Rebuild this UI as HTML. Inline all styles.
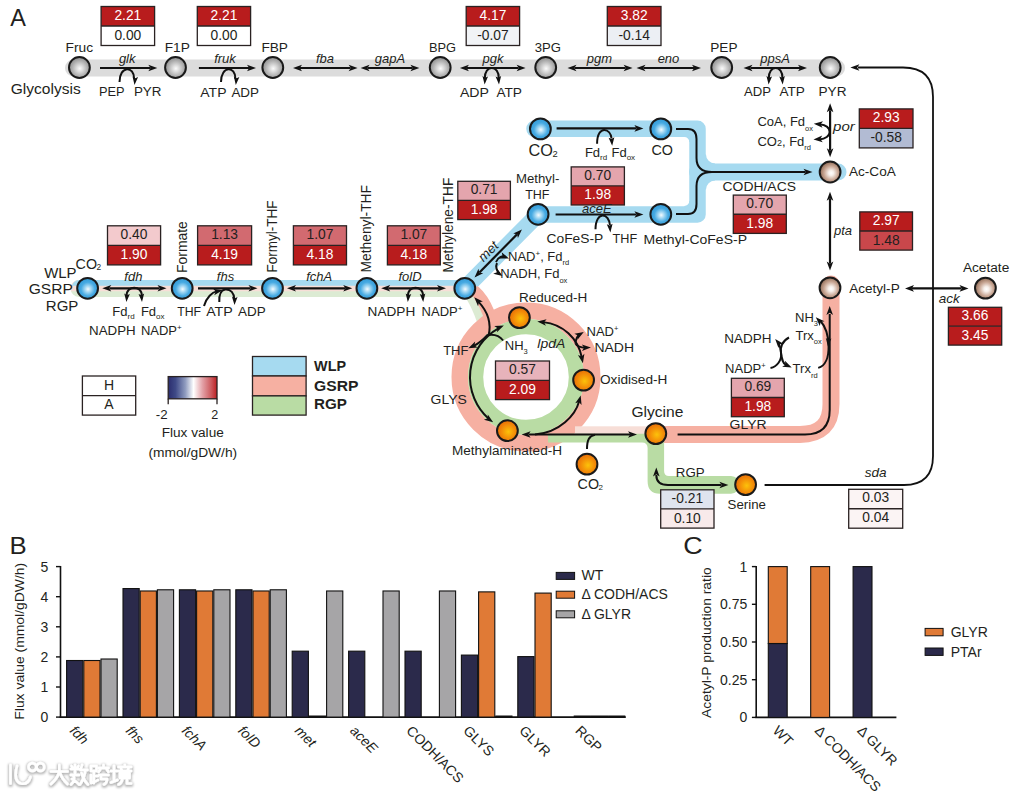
<!DOCTYPE html>
<html><head><meta charset="utf-8"><style>
html,body{margin:0;padding:0;background:#fff;}
svg{display:block;font-family:"Liberation Sans",sans-serif;}
</style></head><body>
<svg width="1014" height="793" viewBox="0 0 1014 793">
<rect width="1014" height="793" fill="#fff"/>
<defs>
<radialGradient id="g_gray" cx="0.52" cy="0.55" r="0.55">
 <stop offset="0" stop-color="#fbfbfb"/><stop offset="0.3" stop-color="#dadada"/><stop offset="0.7" stop-color="#acacac"/><stop offset="1" stop-color="#8c8c8c"/></radialGradient>
<radialGradient id="g_blue" cx="0.52" cy="0.54" r="0.55">
 <stop offset="0" stop-color="#f4fbff"/><stop offset="0.25" stop-color="#a8daf4"/><stop offset="0.6" stop-color="#47aae2"/><stop offset="1" stop-color="#2f98d6"/></radialGradient>
<radialGradient id="g_orange" cx="0.55" cy="0.55" r="0.6">
 <stop offset="0" stop-color="#fcc20a"/><stop offset="0.5" stop-color="#f49108"/><stop offset="1" stop-color="#e66506"/></radialGradient>
<radialGradient id="g_brown" cx="0.55" cy="0.55" r="0.6">
 <stop offset="0" stop-color="#ffffff"/><stop offset="0.2" stop-color="#f6efea"/><stop offset="0.55" stop-color="#caa997"/><stop offset="0.85" stop-color="#9b7762"/><stop offset="1" stop-color="#7a5743"/></radialGradient>
<linearGradient id="g_bar" x1="0" x2="1" y1="0" y2="0">
 <stop offset="0" stop-color="#2b2d6e"/><stop offset="0.15" stop-color="#3f4a87"/><stop offset="0.35" stop-color="#8f9bbf"/><stop offset="0.52" stop-color="#ffffff"/><stop offset="0.7" stop-color="#e3a2a8"/><stop offset="0.88" stop-color="#cc5a5e"/><stop offset="1" stop-color="#bd1e22"/></linearGradient>
</defs>
<rect x="65" y="59.4" width="780" height="17" rx="8.5" fill="#dcdcdc"/>
<path d="M79,280.1 H466 V296.9 H79 A8.4,8.4 0 0 1 79,280.1 Z" fill="#dcebd3"/>
<path d="M79,280.1 H466 V291.3 H71 A8.4,8.4 0 0 1 79,280.1 Z" fill="#f7ded7"/>
<path d="M79,280.1 H466 V285.7 H72 A8.4,8.4 0 0 1 79,280.1 Z" fill="#a6daf0"/>
<path d="M534.5,128.8 H697.5 V214.5 H538 L464.8,288.2" fill="none" stroke="#a6daf0" stroke-width="16.5" stroke-linejoin="round" stroke-linecap="round"/>
<path d="M697.5,172 H838" fill="none" stroke="#a6daf0" stroke-width="17" stroke-linecap="round"/>
<path d="M705,154.5 L706,154.5 A9,9 0 0 0 715,163.5 L715,164.5 L705,164.5 Z" fill="#a6daf0"/>
<path d="M705,189.5 L706,189.5 A9,9 0 0 1 715,180.5 L715,179.5 L705,179.5 Z" fill="#a6daf0"/>
<path d="M690.3,142 L689.3,142 A5,5 0 0 0 684.3,137 L684.3,136 L690.3,136 Z" fill="#a6daf0"/>
<path d="M690.3,201 L689.3,201 A5,5 0 0 1 684.3,206 L684.3,207 L690.3,207 Z" fill="#a6daf0"/>
<path d="M452,291.3 L468,291.5 Q472,293 473.7,296.6 Q480,306 484.4,317 L477,322 Q472,308 466.6,299.3 Q461,296.9 452,296.9 Z" fill="#dcebd3"/>
<path d="M460,284 L478.2,286.4 Q488,295 494,310 L484,318 Q479.5,306 473.2,296.8 L460,293 Z" fill="#f6b0a2"/>
<circle cx="526" cy="377" r="66.2" fill="none" stroke="#f6b0a2" stroke-width="16.6"/>
<path d="M656,434.4 H800 Q831,434.4 831,404 V284" fill="none" stroke="#f6b0a2" stroke-width="17" stroke-linejoin="round" stroke-linecap="round"/>
<rect x="575" y="426.3" width="81" height="8" fill="#f7ded7"/>
<circle cx="526" cy="377" r="50.4" fill="none" stroke="#b9dca4" stroke-width="15.2"/>
<path d="M548,433.7 L664.1,433.7 L664.1,471 Q664.1,476 669,476 L731,476 A8.85,8.85 0 0 1 731,493.7 L660,493.7 Q647.6,493.7 647.6,481 L647.6,448 Q647.6,442.4 642,442.4 L548,442.4 Z" fill="#b9dca4"/>
<circle cx="79.40" cy="67.50" r="10.4" fill="url(#g_gray)" stroke="#1a1a1a" stroke-width="2.0"/>
<circle cx="175.50" cy="67.50" r="10.4" fill="url(#g_gray)" stroke="#1a1a1a" stroke-width="2.0"/>
<circle cx="272.80" cy="67.50" r="10.4" fill="url(#g_gray)" stroke="#1a1a1a" stroke-width="2.0"/>
<circle cx="440.20" cy="67.50" r="10.4" fill="url(#g_gray)" stroke="#1a1a1a" stroke-width="2.0"/>
<circle cx="545.70" cy="67.50" r="10.4" fill="url(#g_gray)" stroke="#1a1a1a" stroke-width="2.0"/>
<circle cx="721.70" cy="67.50" r="10.4" fill="url(#g_gray)" stroke="#1a1a1a" stroke-width="2.0"/>
<circle cx="830.20" cy="67.50" r="10.4" fill="url(#g_gray)" stroke="#1a1a1a" stroke-width="2.0"/>
<text x="65.60" y="51.70" font-size="13.7" fill="#231f20" textLength="27.50" lengthAdjust="spacingAndGlyphs">Fruc</text>
<text x="164.70" y="51.70" font-size="13.7" fill="#231f20" textLength="25.10" lengthAdjust="spacingAndGlyphs">F1P</text>
<text x="261.40" y="51.70" font-size="13.7" fill="#231f20" textLength="26.60" lengthAdjust="spacingAndGlyphs">FBP</text>
<text x="428.90" y="51.70" font-size="13.7" fill="#231f20" textLength="27.10" lengthAdjust="spacingAndGlyphs">BPG</text>
<text x="534.80" y="51.70" font-size="13.7" fill="#231f20" textLength="26.20" lengthAdjust="spacingAndGlyphs">3PG</text>
<text x="710.30" y="51.70" font-size="13.7" fill="#231f20" textLength="27.20" lengthAdjust="spacingAndGlyphs">PEP</text>
<text x="818.50" y="96.20" font-size="13.7" fill="#231f20" textLength="28.00" lengthAdjust="spacingAndGlyphs">PYR</text>
<path d="M157.30,68.00 L148.30,64.70 L150.50,68.00 L148.30,71.30 Z" fill="#111111"/>
<line x1="100.00" y1="68.00" x2="150.30" y2="68.00" stroke="#111111" stroke-width="2.2"/>
<path d="M256.00,68.00 L247.00,64.70 L249.20,68.00 L247.00,71.30 Z" fill="#111111"/>
<line x1="198.90" y1="68.00" x2="249.00" y2="68.00" stroke="#111111" stroke-width="2.2"/>
<path d="M293.00,68.00 L302.00,71.30 L299.80,68.00 L302.00,64.70 Z" fill="#111111"/>
<path d="M357.60,68.00 L348.60,64.70 L350.80,68.00 L348.60,71.30 Z" fill="#111111"/>
<line x1="300.00" y1="68.00" x2="350.60" y2="68.00" stroke="#111111" stroke-width="2.2"/>
<path d="M360.60,68.00 L369.60,71.30 L367.40,68.00 L369.60,64.70 Z" fill="#111111"/>
<path d="M419.40,68.00 L410.40,64.70 L412.60,68.00 L410.40,71.30 Z" fill="#111111"/>
<line x1="367.60" y1="68.00" x2="412.40" y2="68.00" stroke="#111111" stroke-width="2.2"/>
<path d="M459.90,68.00 L468.90,71.30 L466.70,68.00 L468.90,64.70 Z" fill="#111111"/>
<path d="M525.60,68.00 L516.60,64.70 L518.80,68.00 L516.60,71.30 Z" fill="#111111"/>
<line x1="466.90" y1="68.00" x2="518.60" y2="68.00" stroke="#111111" stroke-width="2.2"/>
<path d="M567.50,68.00 L576.50,71.30 L574.30,68.00 L576.50,64.70 Z" fill="#111111"/>
<path d="M632.60,68.00 L623.60,64.70 L625.80,68.00 L623.60,71.30 Z" fill="#111111"/>
<line x1="574.50" y1="68.00" x2="625.60" y2="68.00" stroke="#111111" stroke-width="2.2"/>
<path d="M636.50,68.00 L645.50,71.30 L643.30,68.00 L645.50,64.70 Z" fill="#111111"/>
<path d="M701.00,68.00 L692.00,64.70 L694.20,68.00 L692.00,71.30 Z" fill="#111111"/>
<line x1="643.50" y1="68.00" x2="694.00" y2="68.00" stroke="#111111" stroke-width="2.2"/>
<path d="M743.50,68.00 L752.50,71.30 L750.30,68.00 L752.50,64.70 Z" fill="#111111"/>
<path d="M807.00,68.00 L798.00,64.70 L800.20,68.00 L798.00,71.30 Z" fill="#111111"/>
<line x1="750.50" y1="68.00" x2="800.00" y2="68.00" stroke="#111111" stroke-width="2.2"/>
<text x="127.20" y="63.30" font-size="13" text-anchor="middle" font-style="italic" fill="#231f20">glk</text>
<text x="225.00" y="63.30" font-size="13" text-anchor="middle" font-style="italic" fill="#231f20">fruk</text>
<text x="325.00" y="63.30" font-size="13" text-anchor="middle" font-style="italic" fill="#231f20">fba</text>
<text x="390.00" y="63.30" font-size="13" text-anchor="middle" font-style="italic" fill="#231f20">gapA</text>
<text x="493.00" y="63.30" font-size="13" text-anchor="middle" font-style="italic" fill="#231f20">pgk</text>
<text x="599.40" y="63.30" font-size="13" text-anchor="middle" font-style="italic" fill="#231f20">pgm</text>
<text x="668.50" y="63.30" font-size="13" text-anchor="middle" font-style="italic" fill="#231f20">eno</text>
<text x="775.00" y="63.30" font-size="13" text-anchor="middle" font-style="italic" fill="#231f20">ppsA</text>
<path d="M119.5,82 C119.5,65.5 134.2,65.5 134.2,79" stroke="#111111" stroke-width="2.0" fill="none"/>
<path d="M134.50,85.00 L138.10,77.12 L135.17,78.33 L132.53,76.56 Z" fill="#111111"/>
<path d="M221,82 C221,65.5 235.5,65.5 235.5,79" stroke="#111111" stroke-width="2.0" fill="none"/>
<path d="M235.80,85.00 L239.40,77.12 L236.47,78.33 L233.83,76.56 Z" fill="#111111"/>
<path d="M484.8,78.5 C484.3,64.5 499.3,64.5 498.8,78.5" stroke="#111111" stroke-width="2.0" fill="none"/>
<path d="M484.60,84.50 L488.05,76.55 L485.14,77.82 L482.46,76.10 Z" fill="#111111"/>
<path d="M499.00,84.50 L501.14,76.10 L498.46,77.82 L495.55,76.55 Z" fill="#111111"/>
<path d="M768.8,78.5 C768.3,64.5 783.0,64.5 782.5,78.5" stroke="#111111" stroke-width="2.0" fill="none"/>
<path d="M768.60,84.50 L772.05,76.55 L769.14,77.82 L766.46,76.10 Z" fill="#111111"/>
<path d="M782.70,84.50 L784.84,76.10 L782.16,77.82 L779.25,76.55 Z" fill="#111111"/>
<text x="99.00" y="96.20" font-size="13.7" fill="#231f20" textLength="25.60" lengthAdjust="spacingAndGlyphs">PEP</text>
<text x="133.90" y="96.20" font-size="13.7" fill="#231f20" textLength="27.60" lengthAdjust="spacingAndGlyphs">PYR</text>
<text x="200.30" y="96.60" font-size="13.7" fill="#231f20" textLength="26.20" lengthAdjust="spacingAndGlyphs">ATP</text>
<text x="231.40" y="96.60" font-size="13.7" fill="#231f20" textLength="27.60" lengthAdjust="spacingAndGlyphs">ADP</text>
<text x="459.90" y="96.60" font-size="13.7" fill="#231f20" textLength="29.00" lengthAdjust="spacingAndGlyphs">ADP</text>
<text x="496.40" y="96.60" font-size="13.7" fill="#231f20" textLength="25.60" lengthAdjust="spacingAndGlyphs">ATP</text>
<text x="744.00" y="96.20" font-size="13.7" fill="#231f20" textLength="27.00" lengthAdjust="spacingAndGlyphs">ADP</text>
<text x="779.50" y="96.20" font-size="13.7" fill="#231f20" textLength="25.40" lengthAdjust="spacingAndGlyphs">ATP</text>
<rect x="101.10" y="6.50" width="53.50" height="19.50" fill="#b81c1d"/>
<rect x="101.10" y="26.00" width="53.50" height="19.50" fill="#ffffff"/>
<rect x="101.10" y="6.50" width="53.50" height="39.00" fill="none" stroke="#2a2222" stroke-width="1.3"/>
<line x1="101.10" y1="26.00" x2="154.60" y2="26.00" stroke="#2a2222" stroke-width="1.3"/>
<text x="127.85" y="19.65" font-size="13.8" text-anchor="middle" fill="#ffffff">2.21</text>
<text x="127.85" y="39.75" font-size="13.8" text-anchor="middle" fill="#231f20">0.00</text>
<rect x="197.30" y="6.50" width="53.30" height="19.50" fill="#b81c1d"/>
<rect x="197.30" y="26.00" width="53.30" height="19.50" fill="#ffffff"/>
<rect x="197.30" y="6.50" width="53.30" height="39.00" fill="none" stroke="#2a2222" stroke-width="1.3"/>
<line x1="197.30" y1="26.00" x2="250.60" y2="26.00" stroke="#2a2222" stroke-width="1.3"/>
<text x="223.95" y="19.65" font-size="13.8" text-anchor="middle" fill="#ffffff">2.21</text>
<text x="223.95" y="39.75" font-size="13.8" text-anchor="middle" fill="#231f20">0.00</text>
<rect x="466.20" y="6.50" width="53.40" height="19.50" fill="#b81c1d"/>
<rect x="466.20" y="26.00" width="53.40" height="19.50" fill="#f1f3f6"/>
<rect x="466.20" y="6.50" width="53.40" height="39.00" fill="none" stroke="#2a2222" stroke-width="1.3"/>
<line x1="466.20" y1="26.00" x2="519.60" y2="26.00" stroke="#2a2222" stroke-width="1.3"/>
<text x="492.90" y="19.65" font-size="13.8" text-anchor="middle" fill="#ffffff">4.17</text>
<text x="492.90" y="39.75" font-size="13.8" text-anchor="middle" fill="#231f20">-0.07</text>
<rect x="607.30" y="6.50" width="53.70" height="19.50" fill="#b81c1d"/>
<rect x="607.30" y="26.00" width="53.70" height="19.50" fill="#eceff4"/>
<rect x="607.30" y="6.50" width="53.70" height="39.00" fill="none" stroke="#2a2222" stroke-width="1.3"/>
<line x1="607.30" y1="26.00" x2="661.00" y2="26.00" stroke="#2a2222" stroke-width="1.3"/>
<text x="634.15" y="19.65" font-size="13.8" text-anchor="middle" fill="#ffffff">3.82</text>
<text x="634.15" y="39.75" font-size="13.8" text-anchor="middle" fill="#231f20">-0.14</text>
<text x="10.30" y="25.90" font-size="23.5" fill="#231f20">A</text>
<text x="10.70" y="93.90" font-size="14.5" fill="#231f20" textLength="70.00" lengthAdjust="spacingAndGlyphs">Glycolysis</text>
<circle cx="87.60" cy="288.30" r="10.4" fill="url(#g_blue)" stroke="#1a1a1a" stroke-width="2.0"/>
<circle cx="182.20" cy="288.30" r="10.4" fill="url(#g_blue)" stroke="#1a1a1a" stroke-width="2.0"/>
<circle cx="272.50" cy="288.30" r="10.4" fill="url(#g_blue)" stroke="#1a1a1a" stroke-width="2.0"/>
<circle cx="366.90" cy="288.30" r="10.4" fill="url(#g_blue)" stroke="#1a1a1a" stroke-width="2.0"/>
<circle cx="464.80" cy="288.30" r="10.4" fill="url(#g_blue)" stroke="#1a1a1a" stroke-width="2.0"/>
<path d="M102.30,288.30 L111.30,291.60 L109.10,288.30 L111.30,285.00 Z" fill="#111111"/>
<path d="M166.50,288.30 L157.50,285.00 L159.70,288.30 L157.50,291.60 Z" fill="#111111"/>
<line x1="109.30" y1="288.30" x2="159.50" y2="288.30" stroke="#111111" stroke-width="2.2"/>
<path d="M257.50,288.30 L248.50,285.00 L250.70,288.30 L248.50,291.60 Z" fill="#111111"/>
<line x1="198.00" y1="288.30" x2="250.50" y2="288.30" stroke="#111111" stroke-width="2.2"/>
<path d="M287.00,288.30 L296.00,291.60 L293.80,288.30 L296.00,285.00 Z" fill="#111111"/>
<path d="M352.20,288.30 L343.20,285.00 L345.40,288.30 L343.20,291.60 Z" fill="#111111"/>
<line x1="294.00" y1="288.30" x2="345.20" y2="288.30" stroke="#111111" stroke-width="2.2"/>
<path d="M381.20,288.30 L390.20,291.60 L388.00,288.30 L390.20,285.00 Z" fill="#111111"/>
<path d="M446.00,288.30 L437.00,285.00 L439.20,288.30 L437.00,291.60 Z" fill="#111111"/>
<line x1="388.20" y1="288.30" x2="439.00" y2="288.30" stroke="#111111" stroke-width="2.2"/>
<text x="133.40" y="281.40" font-size="13" text-anchor="middle" font-style="italic" fill="#231f20">fdh</text>
<text x="225.50" y="281.40" font-size="13" text-anchor="middle" font-style="italic" fill="#231f20">fhs</text>
<text x="319.20" y="281.40" font-size="13" text-anchor="middle" font-style="italic" fill="#231f20">fchA</text>
<text x="410.00" y="281.40" font-size="13" text-anchor="middle" font-style="italic" fill="#231f20">folD</text>
<rect x="107.50" y="225.80" width="53.10" height="19.55" fill="#f3cacd"/>
<rect x="107.50" y="245.35" width="53.10" height="19.55" fill="#b81c1d"/>
<rect x="107.50" y="225.80" width="53.10" height="39.10" fill="none" stroke="#2a2222" stroke-width="1.3"/>
<line x1="107.50" y1="245.35" x2="160.60" y2="245.35" stroke="#2a2222" stroke-width="1.3"/>
<text x="134.05" y="238.98" font-size="13.8" text-anchor="middle" fill="#231f20">0.40</text>
<text x="134.05" y="259.12" font-size="13.8" text-anchor="middle" fill="#ffffff">1.90</text>
<rect x="197.60" y="225.80" width="54.00" height="19.55" fill="#d26a70"/>
<rect x="197.60" y="245.35" width="54.00" height="19.55" fill="#b81c1d"/>
<rect x="197.60" y="225.80" width="54.00" height="39.10" fill="none" stroke="#2a2222" stroke-width="1.3"/>
<line x1="197.60" y1="245.35" x2="251.60" y2="245.35" stroke="#2a2222" stroke-width="1.3"/>
<text x="224.60" y="238.98" font-size="13.8" text-anchor="middle" fill="#231f20">1.13</text>
<text x="224.60" y="259.12" font-size="13.8" text-anchor="middle" fill="#ffffff">4.19</text>
<rect x="293.40" y="225.80" width="53.10" height="19.55" fill="#d26a70"/>
<rect x="293.40" y="245.35" width="53.10" height="19.55" fill="#b81c1d"/>
<rect x="293.40" y="225.80" width="53.10" height="39.10" fill="none" stroke="#2a2222" stroke-width="1.3"/>
<line x1="293.40" y1="245.35" x2="346.50" y2="245.35" stroke="#2a2222" stroke-width="1.3"/>
<text x="319.95" y="238.98" font-size="13.8" text-anchor="middle" fill="#231f20">1.07</text>
<text x="319.95" y="259.12" font-size="13.8" text-anchor="middle" fill="#ffffff">4.18</text>
<rect x="387.40" y="225.80" width="52.90" height="19.55" fill="#d26a70"/>
<rect x="387.40" y="245.35" width="52.90" height="19.55" fill="#b81c1d"/>
<rect x="387.40" y="225.80" width="52.90" height="39.10" fill="none" stroke="#2a2222" stroke-width="1.3"/>
<line x1="387.40" y1="245.35" x2="440.30" y2="245.35" stroke="#2a2222" stroke-width="1.3"/>
<text x="413.85" y="238.98" font-size="13.8" text-anchor="middle" fill="#231f20">1.07</text>
<text x="413.85" y="259.12" font-size="13.8" text-anchor="middle" fill="#ffffff">4.18</text>
<text x="187.00" y="272.90" font-size="13.8" fill="#231f20" textLength="51.70" lengthAdjust="spacingAndGlyphs" transform="rotate(-90 187.00 272.90)">Formate</text>
<text x="276.60" y="272.50" font-size="13.8" fill="#231f20" textLength="71.90" lengthAdjust="spacingAndGlyphs" transform="rotate(-90 276.60 272.50)">Formyl-THF</text>
<text x="371.40" y="272.50" font-size="13.8" fill="#231f20" textLength="87.50" lengthAdjust="spacingAndGlyphs" transform="rotate(-90 371.40 272.50)">Methenyl-THF</text>
<text x="453.40" y="272.50" font-size="13.8" fill="#231f20" textLength="94.90" lengthAdjust="spacingAndGlyphs" transform="rotate(-90 453.40 272.50)">Methylene-THF</text>
<text x="44.20" y="278.40" font-size="14.5" fill="#231f20" textLength="32.30" lengthAdjust="spacingAndGlyphs">WLP</text>
<text x="28.70" y="294.20" font-size="14.5" fill="#231f20" textLength="44.20" lengthAdjust="spacingAndGlyphs">GSRP</text>
<text x="45.80" y="310.70" font-size="14.5" fill="#231f20" textLength="32.60" lengthAdjust="spacingAndGlyphs">RGP</text>
<text x="75.60" y="269.00" font-size="14" fill="#231f20" textLength="21.40" lengthAdjust="spacingAndGlyphs">CO</text>
<text x="96.60" y="269.80" font-size="8.3" fill="#231f20">2</text>
<path d="M126.6,296 C126.1,285 142.3,285 141.8,296" stroke="#111111" stroke-width="2.0" fill="none"/>
<path d="M126.40,302.00 L129.85,294.05 L126.94,295.32 L124.26,293.60 Z" fill="#111111"/>
<path d="M142.00,302.00 L144.14,293.60 L141.46,295.32 L138.55,294.05 Z" fill="#111111"/>
<text x="112.30" y="315.50" font-size="13" fill="#231f20">Fd<tspan font-size="8" dy="3">rd</tspan></text>
<text x="140.90" y="315.50" font-size="13" fill="#231f20">Fd<tspan font-size="8" dy="3">ox</tspan></text>
<text x="89.10" y="334.90" font-size="13.7" fill="#231f20" textLength="46.60" lengthAdjust="spacingAndGlyphs">NADPH</text>
<text x="140.9" y="334.9" font-size="13" fill="#231f20">NADP<tspan font-size="8" dy="-5">+</tspan></text>
<path d="M222.50,290.30 L213.06,288.65 L215.81,291.50 L214.23,295.14 Z" fill="#111111"/>
<path d="M204.00,306.00 C206.33,297.33 212.50,292.10 216.59,291.36" stroke="#111111" stroke-width="2.0" fill="none"/>
<path d="M219.3,302 C219,295 220,290.5 225,289.6 C231,289 234,293 234.3,299" stroke="#111111" stroke-width="2.0" fill="none"/>
<path d="M234.50,305.00 L237.54,296.89 L234.70,298.30 L231.95,296.72 Z" fill="#111111"/>
<text x="177.20" y="315.50" font-size="13.7" fill="#231f20" textLength="23.80" lengthAdjust="spacingAndGlyphs">THF</text>
<text x="206.20" y="315.50" font-size="13.7" fill="#231f20" textLength="26.60" lengthAdjust="spacingAndGlyphs">ATP</text>
<text x="238.00" y="315.50" font-size="13.7" fill="#231f20" textLength="27.70" lengthAdjust="spacingAndGlyphs">ADP</text>
<path d="M408,296 C407.5,285 423.5,285 423,296" stroke="#111111" stroke-width="2.0" fill="none"/>
<path d="M407.80,302.00 L411.25,294.05 L408.34,295.32 L405.66,293.60 Z" fill="#111111"/>
<path d="M423.20,302.00 L425.34,293.60 L422.66,295.32 L419.75,294.05 Z" fill="#111111"/>
<text x="367.60" y="315.50" font-size="13.7" fill="#231f20" textLength="47.70" lengthAdjust="spacingAndGlyphs">NADPH</text>
<text x="421.6" y="315.5" font-size="13" fill="#231f20">NADP<tspan font-size="8" dy="-5">+</tspan></text>
<circle cx="538.10" cy="214.30" r="10.4" fill="url(#g_blue)" stroke="#1a1a1a" stroke-width="2.0"/>
<circle cx="540.40" cy="128.90" r="10.4" fill="url(#g_blue)" stroke="#1a1a1a" stroke-width="2.0"/>
<circle cx="660.80" cy="128.90" r="10.4" fill="url(#g_blue)" stroke="#1a1a1a" stroke-width="2.0"/>
<circle cx="660.80" cy="214.30" r="10.4" fill="url(#g_blue)" stroke="#1a1a1a" stroke-width="2.0"/>
<path d="M643.40,128.40 L634.40,125.10 L636.60,128.40 L634.40,131.70 Z" fill="#111111"/>
<line x1="556.60" y1="128.40" x2="636.40" y2="128.40" stroke="#111111" stroke-width="2.2"/>
<path d="M643.40,214.50 L634.40,211.20 L636.60,214.50 L634.40,217.80 Z" fill="#111111"/>
<line x1="555.60" y1="214.50" x2="636.40" y2="214.50" stroke="#111111" stroke-width="2.2"/>
<path d="M474.50,277.40 L483.17,273.31 L479.28,272.56 L478.48,268.68 Z" fill="#111111"/>
<path d="M521.90,229.40 L513.23,233.49 L517.12,234.24 L517.92,238.12 Z" fill="#111111"/>
<line x1="479.42" y1="272.42" x2="516.98" y2="234.38" stroke="#111111" stroke-width="2.2"/>
<text x="491.50" y="254.60" font-size="13.5" text-anchor="middle" font-style="italic" fill="#231f20" transform="rotate(-45 491.50 254.60)">met</text>
<path d="M597.1,143.8 C597,133.5 601,129.9 604.2,129.9 C608,129.9 611,133.5 611.6,138.5" stroke="#111111" stroke-width="2.0" fill="none"/>
<path d="M612.20,145.80 L614.36,137.18 L611.60,138.93 L608.58,137.68 Z" fill="#111111"/>
<text x="584.90" y="156.80" font-size="13" fill="#231f20">Fd<tspan font-size="8" dy="3">rd</tspan></text>
<text x="611.50" y="156.80" font-size="13" fill="#231f20">Fd<tspan font-size="8" dy="3">ox</tspan></text>
<text x="528.60" y="155.80" font-size="15.8" fill="#231f20" textLength="24.40" lengthAdjust="spacingAndGlyphs">CO</text>
<text x="552.60" y="156.80" font-size="9.4" fill="#231f20">2</text>
<text x="651.50" y="155.00" font-size="14" fill="#231f20" textLength="21.50" lengthAdjust="spacingAndGlyphs">CO</text>
<path d="M595.5,229.3 C595.5,219.5 599.5,215.4 602.7,215.4 C606.5,215.4 609.4,219.5 609.9,225" stroke="#111111" stroke-width="2.0" fill="none"/>
<path d="M610.40,232.40 L612.56,223.78 L609.80,225.53 L606.78,224.28 Z" fill="#111111"/>
<text x="546.50" y="242.80" font-size="13.7" fill="#231f20" textLength="56.80" lengthAdjust="spacingAndGlyphs">CoFeS-P</text>
<text x="612.60" y="242.80" font-size="13.7" fill="#231f20" textLength="24.60" lengthAdjust="spacingAndGlyphs">THF</text>
<text x="643.50" y="243.50" font-size="13.7" fill="#231f20" textLength="103.50" lengthAdjust="spacingAndGlyphs">Methyl-CoFeS-P</text>
<text x="516.00" y="183.30" font-size="13.7" fill="#231f20" textLength="43.30" lengthAdjust="spacingAndGlyphs">Methyl-</text>
<text x="525.20" y="199.40" font-size="13.7" fill="#231f20" textLength="24.30" lengthAdjust="spacingAndGlyphs">THF</text>
<rect x="457.80" y="181.30" width="52.60" height="19.15" fill="#e4a5ad"/>
<rect x="457.80" y="200.45" width="52.60" height="19.15" fill="#b81c1d"/>
<rect x="457.80" y="181.30" width="52.60" height="38.30" fill="none" stroke="#2a2222" stroke-width="1.3"/>
<line x1="457.80" y1="200.45" x2="510.40" y2="200.45" stroke="#2a2222" stroke-width="1.3"/>
<text x="484.10" y="194.28" font-size="13.8" text-anchor="middle" fill="#231f20">0.71</text>
<text x="484.10" y="214.03" font-size="13.8" text-anchor="middle" fill="#ffffff">1.98</text>
<rect x="571.20" y="166.90" width="53.20" height="19.05" fill="#e4a5ad"/>
<rect x="571.20" y="185.95" width="53.20" height="19.05" fill="#b81c1d"/>
<rect x="571.20" y="166.90" width="53.20" height="38.10" fill="none" stroke="#2a2222" stroke-width="1.3"/>
<line x1="571.20" y1="185.95" x2="624.40" y2="185.95" stroke="#2a2222" stroke-width="1.3"/>
<text x="597.80" y="179.83" font-size="13.8" text-anchor="middle" fill="#231f20">0.70</text>
<text x="597.80" y="199.48" font-size="13.8" text-anchor="middle" fill="#ffffff">1.98</text>
<text x="596.80" y="213.30" font-size="13" text-anchor="middle" font-style="italic" fill="#231f20">aceE</text>
<path d="M496,262 C498,257 503,255 506,257" stroke="#111111" stroke-width="2.0" fill="none"/>
<path d="M509.00,258.50 L501.68,252.31 L502.61,256.17 L499.41,258.51 Z" fill="#111111"/>
<path d="M497,263 C495,267 497,272 500,274" stroke="#111111" stroke-width="2.0" fill="none"/>
<path d="M502.50,276.00 L496.94,268.19 L496.89,272.16 L493.21,273.64 Z" fill="#111111"/>
<text x="508" y="260.6" font-size="13" fill="#231f20">NAD<tspan font-size="8" dy="-5">+</tspan><tspan dy="5">, Fd</tspan><tspan font-size="7.5" dy="4.8">rd</tspan></text>
<text x="500.2" y="278.3" font-size="13" fill="#231f20">NADH, Fd<tspan font-size="7.5" dy="4.8">ox</tspan></text>
<path d="M676,129 H688 Q696.5,129 696.5,139 V158 Q696.5,172 712,172 H722" stroke="#111111" stroke-width="2.0" fill="none"/>
<path d="M676,214 H688 Q696.5,214 696.5,204 V186 Q696.5,172 712,172" stroke="#111111" stroke-width="2.0" fill="none"/>
<path d="M812.50,172.00 L803.50,168.70 L805.70,172.00 L803.50,175.30 Z" fill="#111111"/>
<line x1="720.00" y1="172.00" x2="805.50" y2="172.00" stroke="#111111" stroke-width="2.2"/>
<circle cx="830.10" cy="172.00" r="10.4" fill="url(#g_brown)" stroke="#1a1a1a" stroke-width="2.0"/>
<circle cx="830.00" cy="287.80" r="10.4" fill="url(#g_brown)" stroke="#1a1a1a" stroke-width="2.0"/>
<circle cx="985.40" cy="288.10" r="10.4" fill="url(#g_brown)" stroke="#1a1a1a" stroke-width="2.0"/>
<path d="M830.10,103.30 L826.80,112.30 L830.10,110.10 L833.40,112.30 Z" fill="#111111"/>
<path d="M830.10,157.20 L833.40,148.20 L830.10,150.40 L826.80,148.20 Z" fill="#111111"/>
<line x1="830.10" y1="110.30" x2="830.10" y2="150.20" stroke="#111111" stroke-width="2.2"/>
<path d="M830.00,191.70 L826.70,200.70 L830.00,198.50 L833.30,200.70 Z" fill="#111111"/>
<path d="M830.00,270.60 L833.30,261.60 L830.00,263.80 L826.70,261.60 Z" fill="#111111"/>
<line x1="830.00" y1="198.70" x2="830.00" y2="263.60" stroke="#111111" stroke-width="2.2"/>
<path d="M819.5,124.3 C826,125 829.6,128 829.6,132 C829.6,136 825.5,139 819.5,139.4" stroke="#111111" stroke-width="2.0" fill="none"/>
<path d="M813.80,123.80 L822.51,127.81 L820.58,124.34 L823.03,121.23 Z" fill="#111111"/>
<path d="M813.50,139.60 L822.73,142.17 L820.28,139.06 L822.21,135.59 Z" fill="#111111"/>
<text x="757.4" y="126.2" font-size="13" fill="#231f20">CoA, Fd<tspan font-size="7.5" dy="4.3">ox</tspan></text>
<text x="757.4" y="145.8" font-size="13" fill="#231f20">CO<tspan font-size="9">2</tspan>, Fd<tspan font-size="7.5" dy="4.3">rd</tspan></text>
<text x="833.00" y="130.90" font-size="13" font-style="italic" fill="#231f20" textLength="21.80" lengthAdjust="spacingAndGlyphs">por</text>
<rect x="859.30" y="108.90" width="53.70" height="19.50" fill="#b81c1d"/>
<rect x="859.30" y="128.40" width="53.70" height="19.50" fill="#b2bbd3"/>
<rect x="859.30" y="108.90" width="53.70" height="39.00" fill="none" stroke="#2a2222" stroke-width="1.3"/>
<line x1="859.30" y1="128.40" x2="913.00" y2="128.40" stroke="#2a2222" stroke-width="1.3"/>
<text x="886.15" y="122.05" font-size="13.8" text-anchor="middle" fill="#ffffff">2.93</text>
<text x="886.15" y="142.15" font-size="13.8" text-anchor="middle" fill="#231f20">-0.58</text>
<text x="849.00" y="176.00" font-size="13.7" fill="#231f20" textLength="46.80" lengthAdjust="spacingAndGlyphs">Ac-CoA</text>
<text x="722.50" y="191.00" font-size="13.7" fill="#231f20" textLength="73.50" lengthAdjust="spacingAndGlyphs">CODH/ACS</text>
<rect x="733.30" y="195.10" width="53.00" height="19.15" fill="#e4a5ad"/>
<rect x="733.30" y="214.25" width="53.00" height="19.15" fill="#b81c1d"/>
<rect x="733.30" y="195.10" width="53.00" height="38.30" fill="none" stroke="#2a2222" stroke-width="1.3"/>
<line x1="733.30" y1="214.25" x2="786.30" y2="214.25" stroke="#2a2222" stroke-width="1.3"/>
<text x="759.80" y="208.07" font-size="13.8" text-anchor="middle" fill="#231f20">0.70</text>
<text x="759.80" y="227.82" font-size="13.8" text-anchor="middle" fill="#ffffff">1.98</text>
<text x="833.90" y="235.30" font-size="13" font-style="italic" fill="#231f20" textLength="18.10" lengthAdjust="spacingAndGlyphs">pta</text>
<rect x="859.80" y="211.90" width="52.70" height="19.10" fill="#b81c1d"/>
<rect x="859.80" y="231.00" width="52.70" height="19.10" fill="#c9474b"/>
<rect x="859.80" y="211.90" width="52.70" height="38.20" fill="none" stroke="#2a2222" stroke-width="1.3"/>
<line x1="859.80" y1="231.00" x2="912.50" y2="231.00" stroke="#2a2222" stroke-width="1.3"/>
<text x="886.15" y="224.85" font-size="13.8" text-anchor="middle" fill="#ffffff">2.97</text>
<text x="886.15" y="244.55" font-size="13.8" text-anchor="middle" fill="#231f20">1.48</text>
<text x="849.20" y="292.50" font-size="13.7" fill="#231f20" textLength="50.50" lengthAdjust="spacingAndGlyphs">Acetyl-P</text>
<text x="962.90" y="271.80" font-size="13.7" fill="#231f20" textLength="46.40" lengthAdjust="spacingAndGlyphs">Acetate</text>
<path d="M905.00,288.40 L914.00,291.70 L911.80,288.40 L914.00,285.10 Z" fill="#111111"/>
<path d="M968.50,288.40 L959.50,285.10 L961.70,288.40 L959.50,291.70 Z" fill="#111111"/>
<line x1="912.00" y1="288.40" x2="961.50" y2="288.40" stroke="#111111" stroke-width="2.2"/>
<text x="938.70" y="303.20" font-size="13" font-style="italic" fill="#231f20" textLength="21.00" lengthAdjust="spacingAndGlyphs">ack</text>
<rect x="948.40" y="307.30" width="53.30" height="18.90" fill="#b81c1d"/>
<rect x="948.40" y="326.20" width="53.30" height="18.90" fill="#b81c1d"/>
<rect x="948.40" y="307.30" width="53.30" height="37.80" fill="none" stroke="#2a2222" stroke-width="1.3"/>
<line x1="948.40" y1="326.20" x2="1001.70" y2="326.20" stroke="#2a2222" stroke-width="1.3"/>
<text x="975.05" y="320.15" font-size="13.8" text-anchor="middle" fill="#ffffff">3.66</text>
<text x="975.05" y="339.65" font-size="13.8" text-anchor="middle" fill="#ffffff">3.45</text>
<path d="M764.6,485 H904 Q933,485 933,456 V97 Q933,67.5 903,67.5 H858" stroke="#111111" stroke-width="1.8" fill="none"/>
<path d="M850.40,67.50 L859.40,70.80 L857.20,67.50 L859.40,64.20 Z" fill="#111111"/>
<text x="864.70" y="477.00" font-size="13" font-style="italic" fill="#231f20" textLength="21.90" lengthAdjust="spacingAndGlyphs">sda</text>
<rect x="848.70" y="489.30" width="54.00" height="19.45" fill="#fbf4f4"/>
<rect x="848.70" y="508.75" width="54.00" height="19.45" fill="#fbf4f4"/>
<rect x="848.70" y="489.30" width="54.00" height="38.90" fill="none" stroke="#2a2222" stroke-width="1.3"/>
<line x1="848.70" y1="508.75" x2="902.70" y2="508.75" stroke="#2a2222" stroke-width="1.3"/>
<text x="875.70" y="502.43" font-size="13.8" text-anchor="middle" fill="#231f20">0.03</text>
<text x="875.70" y="522.48" font-size="13.8" text-anchor="middle" fill="#231f20">0.04</text>
<circle cx="519.40" cy="317.60" r="10.4" fill="url(#g_orange)" stroke="#1a1a1a" stroke-width="2.0"/>
<circle cx="583.60" cy="380.10" r="10.4" fill="url(#g_orange)" stroke="#1a1a1a" stroke-width="2.0"/>
<circle cx="507.40" cy="430.70" r="10.4" fill="url(#g_orange)" stroke="#1a1a1a" stroke-width="2.0"/>
<circle cx="655.80" cy="433.60" r="10.4" fill="url(#g_orange)" stroke="#1a1a1a" stroke-width="2.0"/>
<circle cx="587.00" cy="464.20" r="10.4" fill="url(#g_orange)" stroke="#1a1a1a" stroke-width="2.0"/>
<circle cx="745.60" cy="484.60" r="10.4" fill="url(#g_orange)" stroke="#1a1a1a" stroke-width="2.0"/>
<text x="519.00" y="301.60" font-size="13.7" fill="#231f20" textLength="68.30" lengthAdjust="spacingAndGlyphs">Reduced-H</text>
<text x="600.00" y="383.50" font-size="13.7" fill="#231f20" textLength="67.40" lengthAdjust="spacingAndGlyphs">Oxidised-H</text>
<text x="452.00" y="454.50" font-size="13.7" fill="#231f20" textLength="110.00" lengthAdjust="spacingAndGlyphs">Methylaminated-H</text>
<text x="631.40" y="416.60" font-size="15" fill="#231f20" textLength="52.00" lengthAdjust="spacingAndGlyphs">Glycine</text>
<text x="727.60" y="508.50" font-size="13.7" fill="#231f20" textLength="38.40" lengthAdjust="spacingAndGlyphs">Serine</text>
<text x="577.60" y="489.00" font-size="14" fill="#231f20" textLength="21.40" lengthAdjust="spacingAndGlyphs">CO</text>
<text x="598.40" y="489.60" font-size="8" fill="#231f20">2</text>
<path d="M537.30,321.50 L545.91,325.72 L544.06,322.21 L546.59,319.16 Z" fill="#111111"/>
<path d="M582.90,363.20 L584.40,353.73 L581.59,356.53 L577.93,355.00 Z" fill="#111111"/>
<path d="M543.27,322.12 C562.77,324.17 577.97,338.07 581.74,357.31" stroke="#111111" stroke-width="2.0" fill="none"/>
<path d="M580.70,395.50 L575.19,403.35 L578.95,402.07 L581.57,405.05 Z" fill="#111111"/>
<path d="M579.15,401.30 C575.50,415.00 560.00,432.50 535.00,434.50" stroke="#111111" stroke-width="2.0" fill="none"/>
<path d="M521.60,434.50 L530.60,437.80 L528.40,434.50 L530.60,431.20 Z" fill="#111111"/>
<path d="M637.00,434.50 L628.00,431.20 L630.20,434.50 L628.00,437.80 Z" fill="#111111"/>
<line x1="528.60" y1="434.50" x2="630.00" y2="434.50" stroke="#111111" stroke-width="2.2"/>
<path d="M587,449 C587,440 589,436 595,434.8" stroke="#111111" stroke-width="2.0" fill="none"/>
<path d="M488.53,418.62 A56,56 0 0 1 498.42,328.26" stroke="#111111" stroke-width="2.0" fill="none"/>
<path d="M493.16,422.36 L487.81,414.41 L487.65,418.37 L483.94,419.76 Z" fill="#111111"/>
<path d="M503.85,325.57 L494.28,326.10 L497.60,328.26 L496.89,332.16 Z" fill="#111111"/>
<path d="M474.30,297.30 L478.04,306.13 L478.95,302.26 L482.86,301.61 Z" fill="#111111"/>
<path d="M488.50,336.00 C491.50,324.00 489.00,313.00 478.40,301.68" stroke="#111111" stroke-width="2.0" fill="none"/>
<path d="M468.30,348.30 L477.86,347.59 L474.49,345.49 L475.14,341.58 Z" fill="#111111"/>
<path d="M488.00,334.50 C482.67,340.17 476.10,344.77 473.77,345.82" stroke="#111111" stroke-width="2.0" fill="none"/>
<path d="M503.1,340.5 Q498,334 489,335" stroke="#111111" stroke-width="2.0" fill="none"/>
<text x="504.8" y="349.5" font-size="13" fill="#231f20">NH<tspan font-size="7.5" dy="4.8">3</tspan></text>
<text x="443.20" y="354.90" font-size="13.7" fill="#231f20" textLength="25.20" lengthAdjust="spacingAndGlyphs">THF</text>
<text x="430.60" y="403.50" font-size="13.7" fill="#231f20" textLength="36.30" lengthAdjust="spacingAndGlyphs">GLYS</text>
<text x="537.30" y="348.10" font-size="13" font-style="italic" fill="#231f20" textLength="27.90" lengthAdjust="spacingAndGlyphs">lpdA</text>
<rect x="495.50" y="361.00" width="54.00" height="19.30" fill="#e7b3bb"/>
<rect x="495.50" y="380.30" width="54.00" height="19.30" fill="#b81c1d"/>
<rect x="495.50" y="361.00" width="54.00" height="38.60" fill="none" stroke="#2a2222" stroke-width="1.3"/>
<line x1="495.50" y1="380.30" x2="549.50" y2="380.30" stroke="#2a2222" stroke-width="1.3"/>
<text x="522.50" y="374.05" font-size="13.8" text-anchor="middle" fill="#231f20">0.57</text>
<text x="522.50" y="393.95" font-size="13.8" text-anchor="middle" fill="#ffffff">2.09</text>
<path d="M583.80,332.10 L574.37,333.83 L577.94,335.56 L577.73,339.52 Z" fill="#111111"/>
<path d="M575.50,343.50 C575.50,339.17 578.27,335.37 578.63,335.15" stroke="#111111" stroke-width="2.0" fill="none"/>
<path d="M590.90,347.60 L581.85,344.43 L584.10,347.70 L581.95,351.03 Z" fill="#111111"/>
<path d="M575.50,343.50 C576.50,346.37 581.63,347.73 584.90,347.69" stroke="#111111" stroke-width="2.0" fill="none"/>
<text x="586.5" y="335.7" font-size="13" fill="#231f20">NAD<tspan font-size="7.5" dy="-5">+</tspan></text>
<text x="594.40" y="352.00" font-size="13.7" fill="#231f20" textLength="39.60" lengthAdjust="spacingAndGlyphs">NADH</text>
<path d="M677.6,434.5 H805 Q829.7,434.5 829.7,410 V314" stroke="#111111" stroke-width="2.0" fill="none"/>
<path d="M829.70,306.00 L826.40,315.00 L829.70,312.80 L833.00,315.00 Z" fill="#111111"/>
<text x="729.60" y="429.00" font-size="13.7" fill="#231f20" textLength="37.00" lengthAdjust="spacingAndGlyphs">GLYR</text>
<rect x="731.40" y="378.30" width="52.90" height="19.20" fill="#e4a5ad"/>
<rect x="731.40" y="397.50" width="52.90" height="19.20" fill="#b81c1d"/>
<rect x="731.40" y="378.30" width="52.90" height="38.40" fill="none" stroke="#2a2222" stroke-width="1.3"/>
<line x1="731.40" y1="397.50" x2="784.30" y2="397.50" stroke="#2a2222" stroke-width="1.3"/>
<text x="757.85" y="391.30" font-size="13.8" text-anchor="middle" fill="#231f20">0.69</text>
<text x="757.85" y="411.10" font-size="13.8" text-anchor="middle" fill="#ffffff">1.98</text>
<path d="M818.2,367.9 C825.5,366 828.8,357 828.6,346 C828.4,335 825,326 820.5,321" stroke="#111111" stroke-width="2.0" fill="none"/>
<path d="M815.80,317.30 L819.83,326.00 L820.61,322.11 L824.50,321.33 Z" fill="#111111"/>
<path d="M827.90,346.50 L831.40,338.58 L828.48,339.83 L825.83,338.09 Z" fill="#111111"/>
<text x="795" y="322" font-size="13" fill="#231f20">NH<tspan font-size="7.5" dy="4.3">3</tspan></text>
<text x="795.5" y="339.5" font-size="13" fill="#231f20">Trx<tspan font-size="7.5" dy="4.7">ox</tspan></text>
<text x="792.6" y="373.1" font-size="13" fill="#231f20">Trx<tspan font-size="7.5" dy="4.7">rd</tspan></text>
<text x="724.20" y="342.60" font-size="13.7" fill="#231f20" textLength="47.30" lengthAdjust="spacingAndGlyphs">NADPH</text>
<text x="725.1" y="373.2" font-size="13" fill="#231f20">NADP<tspan font-size="7.5" dy="-5">+</tspan></text>
<path d="M789,337.5 C782,341 780,348 781,353 C782,360 777,367 770.5,368" stroke="#111111" stroke-width="2.0" fill="none"/>
<path d="M791.70,367.60 L784.90,360.85 L785.52,364.76 L782.14,366.84 Z" fill="#111111"/>
<path d="M778.50,343.50 C782.50,349.00 779.50,362.00 786.25,365.10" stroke="#111111" stroke-width="2.0" fill="none"/>
<path d="M775.20,339.00 L778.46,348.02 L779.57,344.21 L783.51,343.77 Z" fill="#111111"/>
<path d="M721,485 H668 Q656.3,485 656.3,475" stroke="#111111" stroke-width="2.0" fill="none"/>
<path d="M656.30,467.50 L653.00,476.50 L656.30,474.30 L659.60,476.50 Z" fill="#111111"/>
<path d="M728.40,485.00 L719.40,481.70 L721.60,485.00 L719.40,488.30 Z" fill="#111111"/>
<text x="675.80" y="477.00" font-size="13.7" fill="#231f20" textLength="28.90" lengthAdjust="spacingAndGlyphs">RGP</text>
<rect x="660.70" y="489.80" width="53.30" height="19.15" fill="#dfe4ee"/>
<rect x="660.70" y="508.95" width="53.30" height="19.15" fill="#f8eaea"/>
<rect x="660.70" y="489.80" width="53.30" height="38.30" fill="none" stroke="#2a2222" stroke-width="1.3"/>
<line x1="660.70" y1="508.95" x2="714.00" y2="508.95" stroke="#2a2222" stroke-width="1.3"/>
<text x="687.35" y="502.77" font-size="13.8" text-anchor="middle" fill="#231f20">-0.21</text>
<text x="687.35" y="522.52" font-size="13.8" text-anchor="middle" fill="#231f20">0.10</text>
<rect x="82.4" y="376" width="53.3" height="39.1" fill="#fff" stroke="#2a2222" stroke-width="1.3"/>
<line x1="82.4" y1="395.6" x2="135.7" y2="395.6" stroke="#2a2222" stroke-width="1.3"/>
<text x="109.00" y="390.30" font-size="14" text-anchor="middle" fill="#231f20">H</text>
<text x="109.00" y="409.20" font-size="14" text-anchor="middle" fill="#231f20">A</text>
<rect x="168.2" y="376.6" width="48.8" height="22.2" fill="url(#g_bar)" stroke="#2a2222" stroke-width="1.3"/>
<line x1="168.2" y1="398.8" x2="168.2" y2="404.2" stroke="#2a2222" stroke-width="1.3"/>
<line x1="217" y1="398.8" x2="217" y2="404.2" stroke="#2a2222" stroke-width="1.3"/>
<text x="155.80" y="418.60" font-size="13.7" fill="#231f20" textLength="11.80" lengthAdjust="spacingAndGlyphs">-2</text>
<text x="211.20" y="418.60" font-size="13.7" fill="#231f20" textLength="7.00" lengthAdjust="spacingAndGlyphs">2</text>
<text x="161.70" y="437.30" font-size="13.7" fill="#231f20" textLength="62.10" lengthAdjust="spacingAndGlyphs">Flux value</text>
<text x="148.40" y="456.50" font-size="13.7" fill="#231f20" textLength="88.80" lengthAdjust="spacingAndGlyphs">(mmol/gDW/h)</text>
<rect x="252.5" y="356.5" width="53.6" height="19.5" fill="#a6daf0" stroke="#2a2222" stroke-width="1.3"/>
<text x="314.10" y="370.70" font-size="14.5" font-weight="bold" fill="#231f20" textLength="31.90" lengthAdjust="spacingAndGlyphs">WLP</text>
<rect x="252.5" y="376" width="53.6" height="19.9" fill="#f6b0a2" stroke="#2a2222" stroke-width="1.3"/>
<text x="314.10" y="390.50" font-size="14.5" font-weight="bold" fill="#231f20" textLength="44.40" lengthAdjust="spacingAndGlyphs">GSRP</text>
<rect x="252.5" y="395.9" width="53.6" height="19.2" fill="#b9dca4" stroke="#2a2222" stroke-width="1.3"/>
<text x="314.10" y="409.20" font-size="14.5" font-weight="bold" fill="#231f20" textLength="32.90" lengthAdjust="spacingAndGlyphs">RGP</text>
<text x="9.40" y="553.70" font-size="24.3" fill="#231f20" textLength="17.20" lengthAdjust="spacingAndGlyphs">B</text>
<line x1="60.5" y1="566" x2="60.5" y2="717.8" stroke="#111" stroke-width="1.6"/>
<line x1="59.7" y1="717.1" x2="625.8" y2="717.1" stroke="#111" stroke-width="1.6"/>
<line x1="56" y1="717.1" x2="60.5" y2="717.1" stroke="#111" stroke-width="1.4"/>
<text x="48.30" y="722.10" font-size="14" text-anchor="end" fill="#231f20">0</text>
<line x1="56" y1="687.0" x2="60.5" y2="687.0" stroke="#111" stroke-width="1.4"/>
<text x="48.30" y="692.00" font-size="14" text-anchor="end" fill="#231f20">1</text>
<line x1="56" y1="656.9" x2="60.5" y2="656.9" stroke="#111" stroke-width="1.4"/>
<text x="48.30" y="661.90" font-size="14" text-anchor="end" fill="#231f20">2</text>
<line x1="56" y1="626.8" x2="60.5" y2="626.8" stroke="#111" stroke-width="1.4"/>
<text x="48.30" y="631.80" font-size="14" text-anchor="end" fill="#231f20">3</text>
<line x1="56" y1="596.7" x2="60.5" y2="596.7" stroke="#111" stroke-width="1.4"/>
<text x="48.30" y="601.70" font-size="14" text-anchor="end" fill="#231f20">4</text>
<line x1="56" y1="566.6" x2="60.5" y2="566.6" stroke="#111" stroke-width="1.4"/>
<text x="48.30" y="571.60" font-size="14" text-anchor="end" fill="#231f20">5</text>
<text x="23.90" y="719.70" font-size="13.5" fill="#231f20" textLength="156.90" lengthAdjust="spacingAndGlyphs" transform="rotate(-90 23.90 719.70)">Flux value (mmol/gDW/h)</text>
<rect x="66.60" y="660.51" width="16.20" height="56.59" fill="#2b2a4b" stroke="#111" stroke-width="1.1"/>
<rect x="83.80" y="660.51" width="16.20" height="56.59" fill="#e07a36" stroke="#111" stroke-width="1.1"/>
<rect x="101.00" y="659.01" width="16.20" height="58.09" fill="#a6a5a7" stroke="#111" stroke-width="1.1"/>
<text x="68.90" y="731.50" font-size="14" font-style="italic" fill="#231f20" transform="rotate(45 68.90 731.50)">fdh</text>
<rect x="123.00" y="588.57" width="16.20" height="128.53" fill="#2b2a4b" stroke="#111" stroke-width="1.1"/>
<rect x="140.20" y="590.98" width="16.20" height="126.12" fill="#e07a36" stroke="#111" stroke-width="1.1"/>
<rect x="157.40" y="589.78" width="16.20" height="127.32" fill="#a6a5a7" stroke="#111" stroke-width="1.1"/>
<text x="124.90" y="731.50" font-size="14" font-style="italic" fill="#231f20" transform="rotate(45 124.90 731.50)">fhs</text>
<rect x="179.40" y="589.78" width="16.20" height="127.32" fill="#2b2a4b" stroke="#111" stroke-width="1.1"/>
<rect x="196.60" y="590.98" width="16.20" height="126.12" fill="#e07a36" stroke="#111" stroke-width="1.1"/>
<rect x="213.80" y="589.78" width="16.20" height="127.32" fill="#a6a5a7" stroke="#111" stroke-width="1.1"/>
<text x="181.10" y="731.50" font-size="14" font-style="italic" fill="#231f20" transform="rotate(45 181.10 731.50)">fchA</text>
<rect x="235.80" y="589.78" width="16.20" height="127.32" fill="#2b2a4b" stroke="#111" stroke-width="1.1"/>
<rect x="253.00" y="590.98" width="16.20" height="126.12" fill="#e07a36" stroke="#111" stroke-width="1.1"/>
<rect x="270.20" y="589.78" width="16.20" height="127.32" fill="#a6a5a7" stroke="#111" stroke-width="1.1"/>
<text x="237.30" y="731.50" font-size="14" font-style="italic" fill="#231f20" transform="rotate(45 237.30 731.50)">folD</text>
<rect x="292.20" y="651.18" width="16.20" height="65.92" fill="#2b2a4b" stroke="#111" stroke-width="1.1"/>
<rect x="308.90" y="715.50" width="17.20" height="1.6" fill="#111"/>
<rect x="326.60" y="590.98" width="16.20" height="126.12" fill="#a6a5a7" stroke="#111" stroke-width="1.1"/>
<text x="294.10" y="731.50" font-size="14" font-style="italic" fill="#231f20" transform="rotate(45 294.10 731.50)">met</text>
<rect x="348.60" y="651.18" width="16.20" height="65.92" fill="#2b2a4b" stroke="#111" stroke-width="1.1"/>
<rect x="383.00" y="590.98" width="16.20" height="126.12" fill="#a6a5a7" stroke="#111" stroke-width="1.1"/>
<text x="349.30" y="731.50" font-size="14" font-style="italic" fill="#231f20" transform="rotate(45 349.30 731.50)">aceE</text>
<rect x="405.00" y="651.18" width="16.20" height="65.92" fill="#2b2a4b" stroke="#111" stroke-width="1.1"/>
<rect x="439.40" y="590.98" width="16.20" height="126.12" fill="#a6a5a7" stroke="#111" stroke-width="1.1"/>
<text x="405.60" y="731.50" font-size="14" fill="#231f20" transform="rotate(45 405.60 731.50)">CODH/ACS</text>
<rect x="461.40" y="655.09" width="16.20" height="62.01" fill="#2b2a4b" stroke="#111" stroke-width="1.1"/>
<rect x="478.60" y="591.88" width="16.20" height="125.22" fill="#e07a36" stroke="#111" stroke-width="1.1"/>
<rect x="495.30" y="715.50" width="17.20" height="1.6" fill="#111"/>
<text x="462.60" y="731.50" font-size="14" fill="#231f20" transform="rotate(45 462.60 731.50)">GLYS</text>
<rect x="517.80" y="656.60" width="16.20" height="60.50" fill="#2b2a4b" stroke="#111" stroke-width="1.1"/>
<rect x="535.00" y="593.09" width="16.20" height="124.01" fill="#e07a36" stroke="#111" stroke-width="1.1"/>
<text x="518.60" y="731.50" font-size="14" fill="#231f20" transform="rotate(45 518.60 731.50)">GLYR</text>
<rect x="573.70" y="715.50" width="17.20" height="1.6" fill="#111"/>
<rect x="590.90" y="715.50" width="17.20" height="1.6" fill="#111"/>
<rect x="608.10" y="715.50" width="17.20" height="1.6" fill="#111"/>
<text x="574.60" y="731.50" font-size="14" fill="#231f20" transform="rotate(45 574.60 731.50)">RGP</text>
<rect x="556.2" y="572.4" width="18.4" height="7" fill="#2b2a4b" stroke="#111" stroke-width="1"/>
<text x="581.50" y="580.20" font-size="14" fill="#231f20">WT</text>
<rect x="556.2" y="591.2" width="18.4" height="7" fill="#e07a36" stroke="#111" stroke-width="1"/>
<text x="581.50" y="599.00" font-size="14" fill="#231f20">Δ CODH/ACS</text>
<rect x="556.2" y="610.8" width="18.4" height="7" fill="#a6a5a7" stroke="#111" stroke-width="1"/>
<text x="581.50" y="618.60" font-size="14" fill="#231f20">Δ GLYR</text>
<text x="683.20" y="554.20" font-size="23.3" fill="#231f20" textLength="19.40" lengthAdjust="spacingAndGlyphs">C</text>
<line x1="756.2" y1="566" x2="756.2" y2="718" stroke="#111" stroke-width="1.6"/>
<line x1="755.4" y1="717.4" x2="896.4" y2="717.4" stroke="#111" stroke-width="1.6"/>
<line x1="751.9" y1="717.4" x2="756.2" y2="717.4" stroke="#111" stroke-width="1.4"/>
<text x="747.30" y="722.40" font-size="14" text-anchor="end" fill="#231f20">0</text>
<line x1="751.9" y1="679.7" x2="756.2" y2="679.7" stroke="#111" stroke-width="1.4"/>
<text x="747.30" y="684.70" font-size="14" text-anchor="end" fill="#231f20">0.25</text>
<line x1="751.9" y1="642.0" x2="756.2" y2="642.0" stroke="#111" stroke-width="1.4"/>
<text x="747.30" y="647.00" font-size="14" text-anchor="end" fill="#231f20">0.50</text>
<line x1="751.9" y1="604.3" x2="756.2" y2="604.3" stroke="#111" stroke-width="1.4"/>
<text x="747.30" y="609.30" font-size="14" text-anchor="end" fill="#231f20">0.75</text>
<line x1="751.9" y1="566.6" x2="756.2" y2="566.6" stroke="#111" stroke-width="1.4"/>
<text x="747.30" y="571.60" font-size="14" text-anchor="end" fill="#231f20">1</text>
<text x="711.00" y="718.00" font-size="13.5" fill="#231f20" textLength="150.70" lengthAdjust="spacingAndGlyphs" transform="rotate(-90 711.00 718.00)">Acetyl-P production ratio</text>
<rect x="768.30" y="643.51" width="18.9" height="73.89" fill="#2b2a4b" stroke="#111" stroke-width="1.1"/>
<rect x="768.30" y="566.60" width="18.9" height="76.91" fill="#e07a36" stroke="#111" stroke-width="1.1"/>
<rect x="810.70" y="566.60" width="18.9" height="150.80" fill="#e07a36" stroke="#111" stroke-width="1.1"/>
<rect x="853.10" y="566.60" width="18.9" height="150.80" fill="#2b2a4b" stroke="#111" stroke-width="1.1"/>
<text x="772.00" y="731.50" font-size="14" fill="#231f20" transform="rotate(45 772.00 731.50)">WT</text>
<text x="814.00" y="731.50" font-size="14" fill="#231f20" transform="rotate(45 814.00 731.50)">Δ CODH/ACS</text>
<text x="856.50" y="731.50" font-size="14" fill="#231f20" transform="rotate(45 856.50 731.50)">Δ GLYR</text>
<rect x="925.1" y="628.4" width="18" height="7.4" fill="#e07a36" stroke="#111" stroke-width="1"/>
<text x="950.70" y="636.90" font-size="14" fill="#231f20">GLYR</text>
<rect x="925.1" y="648" width="18" height="7.4" fill="#2b2a4b" stroke="#111" stroke-width="1"/>
<text x="950.70" y="656.50" font-size="14" fill="#231f20">PTAr</text>
<filter id="wm" x="-20%" y="-60%" width="140%" height="220%"><feMorphology in="SourceAlpha" operator="dilate" radius="0.6" result="d"/><feGaussianBlur in="d" stdDeviation="1.1" result="b"/><feFlood flood-color="#000" flood-opacity="0.28"/><feComposite in2="b" operator="in" result="s"/><feOffset dx="0.4" dy="0.6"/><feMerge><feMergeNode/><feMergeNode in="SourceGraphic"/></feMerge></filter>
<g filter="url(#wm)" fill="none" stroke="#ffffff" stroke-width="2.6" stroke-linecap="round" stroke-linejoin="round"><path d="M10.5,765 V783.5"/><path d="M17,766 Q13,781 21,783.5 Q28,785 30.5,777"/><path d="M28.5,767 a3.9,3.9 0 1 0 7.8,0 a3.9,3.9 0 1 0 -7.8,0"/><path d="M36.5,767 a3.9,3.9 0 1 0 7.8,0 a3.9,3.9 0 1 0 -7.8,0"/><path d="M51,771.5 H67.5 M59.3,765 V772 Q57,779 51,784 M59.8,772.5 Q62,779 67.5,784"/><path d="M71,769 H79 M75,765 V774 M71.5,766 L73,768 M78.5,766 L77,768 M71,775 H79 M73,775 Q76,780 71,784.5 M72,779 Q77,782 79,784.5"/><path d="M82,765 L80.5,770 H87.5 M85.5,770 Q84,779 80,784.5 M81.5,773 Q84,781 88,784.5"/><path d="M91,766 H96.5 V771 H91 Z M93.8,771 V783 M91,775 V783 Q95,782 98,780 M96,776 H98"/><path d="M98.5,768 H108.5 M103.5,765 V768 M101,768 L98.5,772 M106,768 L108.5,772 M99,775 H108.5 M101,775 V779 H107 Q107,783 104,784.5"/><path d="M111,771 H117 M114,766 V781 M111,782.5 L117.5,780"/><path d="M118.5,767 H131 M124.8,765 V767 M121,768.5 L122,770.5 M128.5,768.5 L127.5,770.5 M118.5,771 H131 M120,773 H129.5 V778 H120 Z M120,775.5 H129.5 M122.5,778 Q122,783 118.5,784.5 M127,778 V783.5 H131"/></g>
</svg></body></html>
